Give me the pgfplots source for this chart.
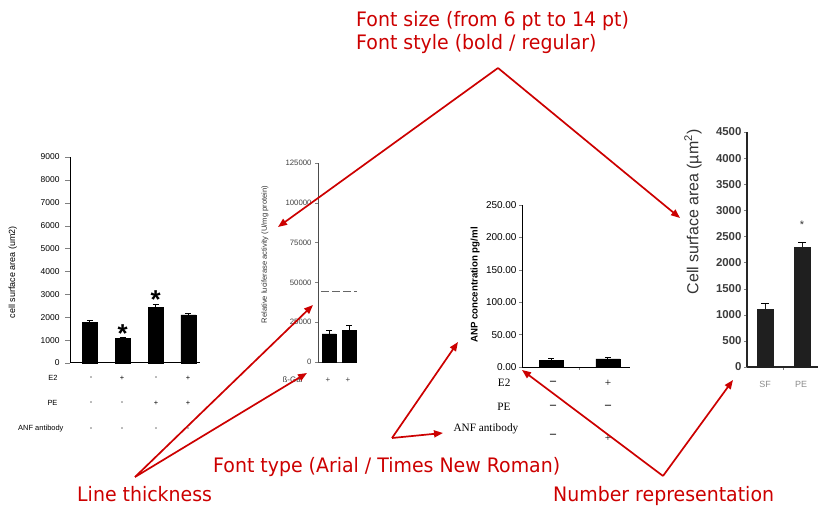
\documentclass[border=0pt]{standalone}
\usepackage{fontspec}
\usepackage{pgfplots}
\pgfplotsset{compat=1.18}
\usetikzlibrary{arrows.meta}
\setmainfont{Liberation Sans}
\newfontfamily\timesfont{Liberation Serif}
\newfontfamily\redfont[FakeStretch=0.95]{DejaVu Sans}
\definecolor{annred}{RGB}{204,0,0}
\definecolor{gray4}{RGB}{60,60,60}
\begin{document}
\begin{tikzpicture}[x=1bp,y=1bp]
\pgfplotsset{
  panel/.style={
    scale only axis, axis x line=bottom, axis y line=left,
    axis line style={-, line width=0.8pt},
    tick align=outside, major tick length=3bp,
    ymin=0, xtick=\empty, scaled ticks=false,
    /pgf/number format/fixed,
    /pgf/number format/assume math mode=true,
    /pgf/number format/set thousands separator={},
    clip=false, anchor=south west,
  },
}
% ---------------- chart 1
\begin{axis}[panel, at={(70bp,147bp)}, width=130bp, height=206bp,
  xmin=0.4, xmax=4.35, ymax=9000, ytick={0,1000,...,9000},
  major tick length=5bp,
  tick label style={font=\fontsize{8.5}{9}\selectfont},
  yticklabel style={xshift=-2bp},
  ylabel={cell surface area (um2)},
  ylabel style={at={(axis description cs:-0.44,0.44)}, anchor=center, font=\fontsize{9}{10}\selectfont},
  axis line style={-, line width=1pt}]
\addplot[ybar, bar width=15bp, fill=black, draw=black,
  error bars/.cd, y dir=plus, y explicit,
  error bar style={line width=0.8pt},
  error mark options={rotate=90, mark size=3bp, line width=0.8pt}]
  coordinates {(1,1780) +- (0,60) (2,1070) +- (0,40) (3,2430) +- (0,130) (4,2100) +- (0,70)};
\node[font=\bfseries\fontsize{26}{26}\selectfont, anchor=base, inner sep=0] at (axis cs:2,880) {*};
\node[font=\bfseries\fontsize{26}{26}\selectfont, anchor=base, inner sep=0] at (axis cs:3,2370) {*};
\end{axis}
\begin{scope}[font=\fontsize{7.5}{8}\selectfont]
\node[anchor=east] at (61,132) {E2};
\node[anchor=east] at (61,107) {PE};
\node[anchor=east] at (67,81) {ANF antibody};
\foreach \x/\s in {91/-,122/+,156/-,188/+} \node at (\x,132) {\s};
\foreach \x/\s in {91/-,122/-,156/+,188/+} \node at (\x,107) {\s};
\foreach \x/\s in {91/-,122/-,156/-,188/-} \node at (\x,81) {\s};
\end{scope}
% ---------------- chart 2
\begin{axis}[panel, at={(318bp,148bp)}, width=39bp, height=199bp,
  xmin=0.46, xmax=2.37, ymax=125000, ytick={0,25000,...,125000},
  tick label style={font=\fontsize{7.8}{8}\selectfont, text=black!75},
  axis line style={-, line width=0.6pt, black!70},
  ylabel={Relative luciferase activity (U/mg protein)},
  ylabel style={at={(axis description cs:-1.36,0.54)}, anchor=center, font=\fontsize{7.6}{8}\selectfont, text=black!80}]
\addplot[black!60, line width=0.6pt, dash pattern=on 8bp off 3bp] coordinates {(0.62,44500) (2.37,44500)};
\addplot[ybar, bar width=14bp, fill=black, draw=black,
  error bars/.cd, y dir=plus, y explicit,
  error bar style={line width=0.8pt},
  error mark options={rotate=90, mark size=3bp, line width=0.8pt}]
  coordinates {(1,17650) +- (0,2300) (2,19750) +- (0,3150)};
\end{axis}
\begin{scope}[font=\fontsize{8}{9}\selectfont, text=black!75]
\node[anchor=east] at (306,130) {ß-Gal};
\node at (328,130) {+};
\node at (348,130) {+};
\end{scope}
% ---------------- chart 3
\begin{axis}[panel, at={(522bp,143bp)}, width=108bp, height=162bp,
  xmin=0.49, xmax=2.39, ymax=250, ytick={0,50,...,250},
  xtick={1.5}, xticklabels={},
  /pgf/number format/.cd, fixed, fixed zerofill, precision=2, /pgfplots/.cd,
  tick label style={font=\fontsize{10}{10}\selectfont},
  yticklabel style={xshift=1bp},
  axis line style={-, line width=0.7pt},
  ylabel={\bfseries ANP concentration pg/ml},
  ylabel style={at={(axis description cs:-0.435,0.506)}, anchor=center, font=\fontsize{9.7}{10}\selectfont}]
\addplot[ybar, bar width=24bp, fill=black, draw=black,
  error bars/.cd, y dir=plus, y explicit,
  error bar style={line width=0.8pt},
  error mark options={rotate=90, mark size=3bp, line width=0.8pt}]
  coordinates {(1,10.3) +- (0,2.6) (2,12.4) +- (0,3.1)};
\end{axis}
\begin{scope}[font=\timesfont\fontsize{11.3}{12}\selectfont]
\node[anchor=east] at (514,127) {E2};
\node[anchor=east] at (514,103) {PE};
\node[anchor=west] at (450,81) {ANF antibody};
\node[font=\timesfont\bfseries\fontsize{12}{12}\selectfont] at (553,127) {–};
\node at (608,127) {+};
\node[font=\timesfont\bfseries\fontsize{12}{12}\selectfont] at (553,103) {–};
\node[font=\timesfont\bfseries\fontsize{12}{12}\selectfont] at (608,103) {–};
\node[font=\timesfont\bfseries\fontsize{12}{12}\selectfont] at (553,74) {–};
\node at (608,72) {+};
\end{scope}
% ---------------- chart 4
\begin{axis}[panel, at={(747bp,143bp)}, width=71bp, height=235bp,
  xmin=0.51, xmax=2.43, ymax=4500, ytick={0,500,...,4500},
  xtick={1.5}, xticklabels={}, x tick style={line width=1pt},
  tick label style={font=\bfseries\fontsize{11.5}{12}\selectfont, text=gray4},
  yticklabel style={xshift=1bp},
  axis line style={-, line width=1.4pt, black!85},
  ylabel={Cell surface area (\textmu m\textsuperscript{2})},
  ylabel style={at={(axis description cs:-0.76,0.66)}, anchor=center, font=\fontsize{16}{17}\selectfont, text=black!80}]
\addplot[ybar, bar width=16bp, fill=black!88, draw=black!88,
  error bars/.cd, y dir=plus, y explicit,
  error bar style={line width=1.2pt},
  error mark options={rotate=90, mark size=4bp, line width=1.2pt}]
  coordinates {(1,1100) +- (0,120) (2,2290) +- (0,100)};
\node[font=\fontsize{11}{11}\selectfont, text=black!80] at (axis cs:2,2720) {*};
\end{axis}
\begin{scope}[font=\fontsize{9}{10}\selectfont, text=black!45]
\node at (765,126) {SF};
\node at (801,126) {PE};
\end{scope}
% ---------------- annotations
\begin{scope}[font=\redfont\fontsize{20}{22}\selectfont, text=annred]
\node[anchor=base west, inner sep=0] at (356,483) {Font size (from 6 pt to 14 pt)};
\node[anchor=base west, inner sep=0] at (356,460) {Font style (bold / regular)};
\node[anchor=base west, inner sep=0] at (213,37) {Font type (Arial / Times New Roman)};
\node[anchor=base west, inner sep=0] at (77,8) {Line thickness};
\node[anchor=base west, inner sep=0] at (553,8) {Number representation};
\end{scope}
\begin{scope}[annred, line width=1.7bp, line join=round, -{Triangle[length=9bp,width=7bp]}]
\draw (498,442) -- (278,283);
\draw (498,442) -- (680,292);
\draw (135,33) -- (313,205);
\draw (135,33) -- (307,137);
\draw (392,72) -- (458,168);
\draw (392,72) -- (443,77);
\draw (663,34) -- (522,140);
\draw (663,34) -- (733,130);
\end{scope}
\pgfresetboundingbox
\path[use as bounding box] (0,0) rectangle (818,510);
\end{tikzpicture}
\end{document}
